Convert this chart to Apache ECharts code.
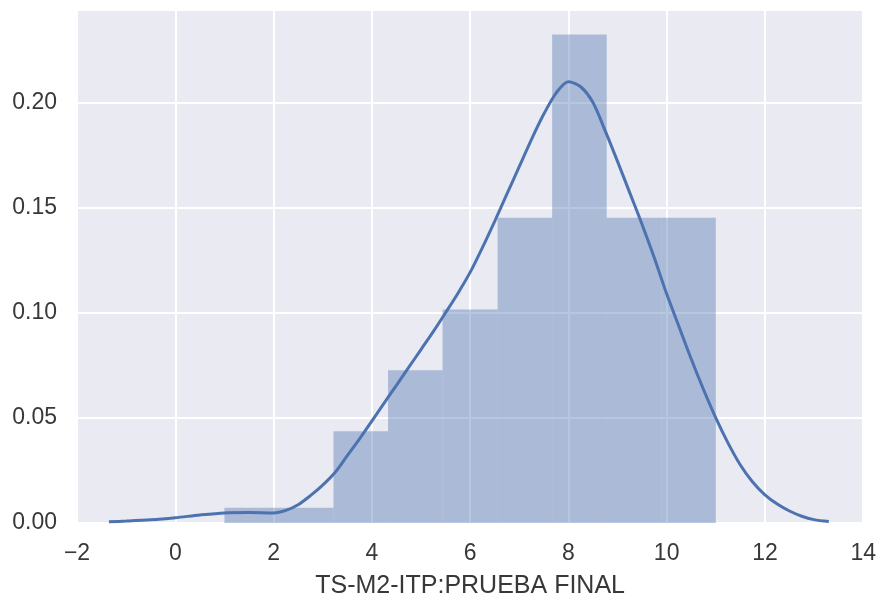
<!DOCTYPE html>
<html>
<head>
<meta charset="utf-8">
<script src="https://cdn.jsdelivr.net/npm/echarts@6/dist/echarts.min.js"></script>
<style>
html,body{margin:0;padding:0;background:#fff;}
#chart{width:879px;height:604px;}
</style>
</head>
<body>
<div id="chart"></div>
<script>
// Histogram bins (edges) and density heights
const binEdges = [1.0, 2.11, 3.22, 4.33, 5.44, 6.56, 7.67, 8.78, 9.89, 11.0];
const binDensity = [0.0073, 0.0073, 0.0436, 0.0726, 0.1016, 0.1452, 0.2323, 0.1452, 0.1452];

// KDE curve points
const kdeX = [-1.35, -1.0, -0.5, 0.0, 0.5, 1.0, 1.5, 2.0, 2.25, 2.5, 2.75, 3.0, 3.25, 3.5, 3.75, 4.0, 4.25, 4.5, 4.75, 5.0, 5.25, 5.5, 5.75, 6.0, 6.25, 6.5, 6.75, 7.0, 7.25, 7.5, 7.75, 8.0, 8.25, 8.5, 8.75, 9.0, 9.25, 9.5, 9.75, 10.0, 10.25, 10.5, 10.75, 11.0, 11.25, 11.5, 11.75, 12.0, 12.25, 12.5, 12.75, 13.0, 13.3];
const kdeY = [0.0006, 0.0009, 0.0015, 0.0025, 0.0038, 0.0048, 0.0050, 0.0048, 0.0060, 0.0087, 0.0130, 0.0180, 0.0240, 0.0320, 0.0400, 0.0485, 0.0570, 0.0655, 0.0740, 0.0825, 0.0910, 0.1000, 0.1092, 0.1192, 0.1310, 0.1435, 0.1565, 0.1695, 0.1825, 0.1945, 0.2045, 0.2099, 0.2075, 0.2000, 0.1865, 0.1720, 0.1570, 0.1420, 0.1260, 0.1090, 0.0935, 0.0780, 0.0635, 0.0500, 0.0380, 0.0276, 0.0195, 0.0134, 0.0090, 0.0057, 0.0032, 0.0016, 0.0007];

const xTicks = [-2, 0, 2, 4, 6, 8, 10, 12, 14];
const yTicks = [0.00, 0.05, 0.10, 0.15, 0.20];
const xLabel = 'TS-M2-ITP:PRUEBA FINAL';

const barData = binDensity.map((d, i) => [binEdges[i], binEdges[i + 1], d]);
const lineData = kdeX.map((x, i) => [x, kdeY[i]]);

const chart = echarts.init(document.getElementById('chart'), null, {renderer: 'canvas'});
const textColor = '#383838';
const fontFamily = '"Liberation Sans", Arial, sans-serif';

chart.setOption({
  animation: false,
  grid: {
    left: 77, right: 14, top: 10, bottom: 79,
    show: true, backgroundColor: '#eaeaf2', borderWidth: 0
  },
  xAxis: {
    type: 'value',
    min: xTicks[0], max: xTicks[xTicks.length - 1], interval: 2,
    name: xLabel, nameLocation: 'middle', nameGap: 51,
    nameTextStyle: {color: textColor, fontSize: 25, fontFamily: fontFamily},
    axisLine: {show: false}, axisTick: {show: false},
    axisLabel: {color: textColor, fontSize: 23, fontFamily: fontFamily, margin: 19,
      formatter: v => (v < 0 ? '\u2212' + Math.abs(v) : String(v))},
    splitLine: {show: true, lineStyle: {color: '#ffffff', width: 2}}
  },
  yAxis: {
    type: 'value',
    min: 0, max: 0.244, interval: 0.05,
    axisLine: {show: false}, axisTick: {show: false},
    axisLabel: {color: textColor, fontSize: 23, fontFamily: fontFamily, margin: 20,
      showMaxLabel: false,
      formatter: v => v.toFixed(2)},
    splitLine: {show: true, lineStyle: {color: '#ffffff', width: 2}}
  },
  series: [
    {
      type: 'custom',
      data: barData,
      encode: {x: [0, 1], y: 2},
      renderItem: function (params, api) {
        const p0 = api.coord([api.value(0), api.value(2)]);
        const p1 = api.coord([api.value(1), 0]);
        return {
          type: 'rect',
          shape: {x: p0[0], y: p0[1], width: p1[0] - p0[0], height: p1[1] - p0[1]},
          style: {fill: 'rgba(76,114,176,0.4)', stroke: null}
        };
      },
      z: 2
    },
    {
      type: 'line',
      data: lineData,
      smooth: 0.3,
      showSymbol: false,
      lineStyle: {color: '#4c72b0', width: 3},
      z: 3
    }
  ]
});
</script>
</body>
</html>
